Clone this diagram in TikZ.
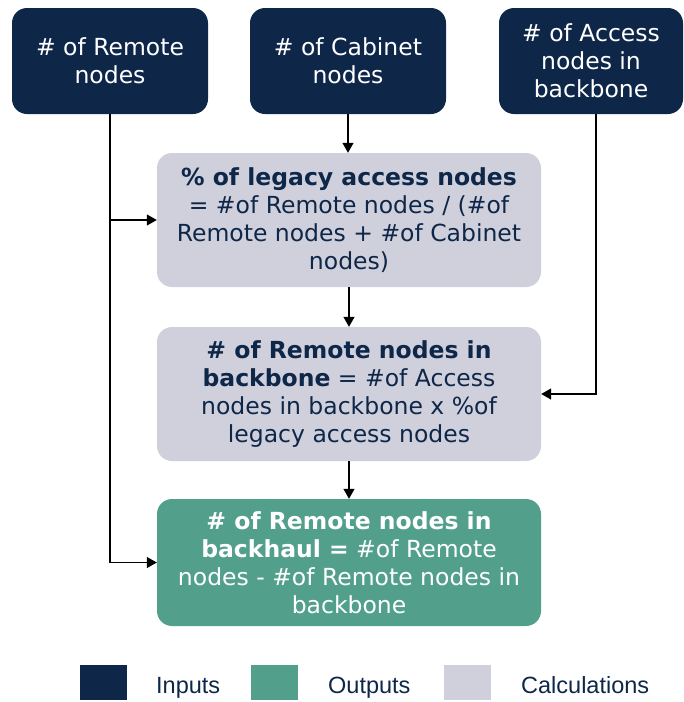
\documentclass[tikz,border=0pt]{standalone}
\usepackage{fontspec}
\setmainfont{DejaVu Sans}
\newfontfamily\legfont{Liberation Sans}
\usetikzlibrary{arrows.meta}
\definecolor{navy}{RGB}{14,39,73}
\definecolor{teal}{RGB}{82,160,140}
\definecolor{calcgrey}{RGB}{208,208,220}
\tikzset{
  box/.style={rounded corners=15pt, align=center, inner sep=0pt,
    font=\fontsize{23.5}{28}\selectfont},
  inbox/.style={box, fill=navy, text=white},
  calcbox/.style={box, fill=calcgrey, text=navy},
  outbox/.style={box, fill=teal, text=white},
  arr/.style={line width=1.3pt, -{Triangle[length=10pt,width=11pt]}},
  legsq/.style={minimum width=47pt, minimum height=35pt, inner sep=0pt},
  legtext/.style={font=\legfont\fontsize{23.5}{28}\selectfont, text=navy, anchor=base west, inner sep=0pt}
}
\begin{document}
\begin{tikzpicture}[x=1pt,y=-1pt]
\useasboundingbox (0,0) rectangle (684,702);
\node[inbox, minimum width=196pt, minimum height=106pt] (b1) at (110,61) {\# of Remote\\nodes};
\node[inbox, minimum width=196pt, minimum height=106pt] (b2) at (348,61) {\# of Cabinet\\nodes};
\node[inbox, minimum width=184pt, minimum height=106pt] (b3) at (591,61) {\# of Access\\nodes in\\backbone};
\node[calcbox, minimum width=384pt, minimum height=134pt] (c1) at (349,220)
  {\textbf{\% of legacy access nodes}\\= \#of Remote nodes / (\#of\\Remote nodes + \#of Cabinet\\nodes)};
\node[calcbox, minimum width=384pt, minimum height=134pt] (c2) at (349,394)
  {\textbf{\# of Remote nodes in}\\\textbf{backbone} = \#of Access\\nodes in backbone x \%of\\legacy access nodes};
\node[outbox, minimum width=384pt, minimum height=127pt] (o) at (349,562.5)
  {\textbf{\# of Remote nodes in}\\\textbf{backhaul =} \#of Remote\\nodes - \#of Remote nodes in\\backbone};
\coordinate (j1) at (b1.south |- c1.west);
\coordinate (r1) at ([xshift=5pt]b3.south);
\draw[arr] (b2.south) -- (b2.south |- c1.north);
\draw[arr] (b1.south) |- (o.west);
\draw[arr] (j1) -- (c1.west);
\draw[arr] (r1) |- (c2.east);
\draw[arr] (c1.south) -- (c2.north);
\draw[arr] (c2.south) -- (o.north);
% legend
\node[legsq, fill=navy] (l1) at (103.5,682.5) {};
\node[legsq, fill=teal] (l2) at (274.5,682.5) {};
\node[legsq, fill=calcgrey] (l3) at (467.5,682.5) {};
\node[legtext] (t1) at (156,693) {Inputs};
\node[legtext] (t2) at (328,693) {Outputs};
\node[legtext] (t3) at (521,693) {Calculations};
\end{tikzpicture}
\end{document}
